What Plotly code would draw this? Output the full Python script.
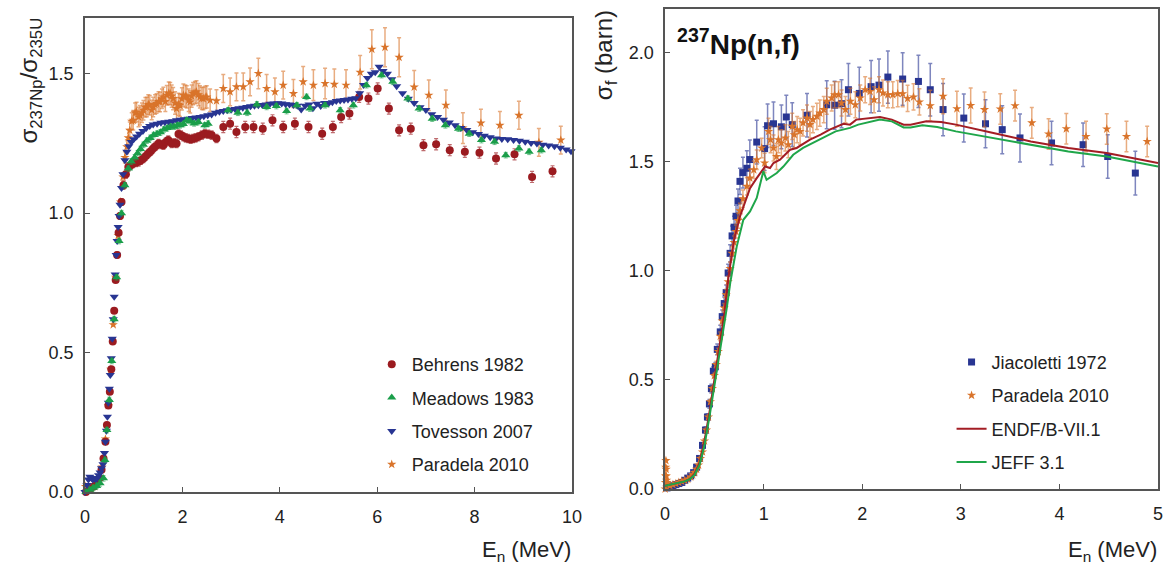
import plotly.graph_objects as go

# ---- left panel: sigma(237Np)/sigma(235U) ----
behrens_x = [0.02, 0.10, 0.18, 0.25, 0.30, 0.34, 0.38, 0.42, 0.45, 0.48,
             0.51, 0.54, 0.57, 0.60, 0.63, 0.66, 0.69, 0.72, 0.75, 0.79,
             0.84, 0.89, 0.94, 0.99, 1.05, 1.10, 1.15, 1.20, 1.25, 1.30,
             1.35, 1.40, 1.45, 1.51, 1.56, 1.61, 1.66, 1.71, 1.78, 1.83,
             1.88, 1.92, 1.97, 2.02, 2.07, 2.12, 2.17, 2.22, 2.27, 2.33,
             2.40, 2.46, 2.53, 2.60, 2.70, 2.84, 2.98, 3.11, 3.29, 3.46,
             3.65, 3.85, 4.07, 4.31, 4.59, 4.87, 5.09, 5.26, 5.43, 5.63,
             5.82, 6.01, 6.24, 6.45, 6.69, 6.95, 7.21, 7.49, 7.80, 8.10,
             8.44, 8.82, 9.18, 9.60]
behrens_y = [0.0, 0.01, 0.02, 0.035, 0.05, 0.08, 0.12, 0.18, 0.24, 0.31,
             0.36, 0.44, 0.54, 0.65, 0.76, 0.85, 0.93, 0.99, 1.04, 1.10,
             1.14, 1.166, 1.172, 1.178, 1.182, 1.184, 1.19, 1.196, 1.205, 1.214,
             1.222, 1.232, 1.24, 1.25, 1.246, 1.244, 1.255, 1.262, 1.25, 1.252,
             1.25, 1.284, 1.28, 1.274, 1.27, 1.268, 1.265, 1.268, 1.27, 1.274,
             1.28, 1.285, 1.283, 1.28, 1.268, 1.309, 1.321, 1.291, 1.309, 1.309,
             1.303, 1.333, 1.309, 1.321, 1.309, 1.285, 1.309, 1.345, 1.357, 1.417,
             1.411, 1.447, 1.375, 1.297, 1.303, 1.244, 1.247, 1.226, 1.220, 1.217,
             1.196, 1.211, 1.130, 1.150]
behrens_err = [0.005, 0.005, 0.005, 0.005, 0.005, 0.005, 0.005, 0.005, 0.005, 0.005,
               0.005, 0.005, 0.005, 0.008, 0.008, 0.01, 0.01, 0.012, 0.012, 0.015,
               0.015, 0.015, 0.015, 0.015, 0.015, 0.015, 0.015, 0.015, 0.015, 0.015,
               0.015, 0.015, 0.015, 0.015, 0.015, 0.015, 0.015, 0.015, 0.015, 0.015,
               0.015, 0.015, 0.015, 0.015, 0.015, 0.015, 0.015, 0.015, 0.015, 0.015,
               0.015, 0.015, 0.015, 0.015, 0.015, 0.02, 0.02, 0.02, 0.02, 0.02,
               0.02, 0.02, 0.02, 0.02, 0.02, 0.02, 0.02, 0.02, 0.02, 0.02,
               0.02, 0.02, 0.02, 0.02, 0.02, 0.02, 0.02, 0.02, 0.02, 0.02,
               0.02, 0.02, 0.02, 0.02]

meadows_x = [0.02, 0.10, 0.17, 0.24, 0.31, 0.38, 0.41, 0.45, 0.50, 0.55,
             0.60, 0.65, 0.70, 0.75, 0.82, 0.89, 0.95, 1.02, 1.08, 1.14,
             1.20, 1.27, 1.34, 1.41, 1.48, 1.55, 1.62, 1.69, 1.76, 1.83,
             1.90, 1.95, 2.02, 2.09, 2.16, 2.24, 2.33, 2.46, 2.53, 2.94,
             3.14, 3.33, 3.53, 3.73, 3.93, 4.14, 4.35, 4.55, 4.62, 4.93,
             5.24, 5.51, 5.78, 6.09, 6.32, 6.63, 6.86, 7.13, 7.40, 7.67,
             7.89, 8.14, 8.41, 8.64, 8.91, 9.12, 9.37]
meadows_y = [0.0, 0.008, 0.015, 0.022, 0.031, 0.049, 0.115, 0.222, 0.33, 0.47,
             0.62, 0.77, 0.90, 1.00, 1.10, 1.16, 1.185, 1.20, 1.215, 1.23,
             1.245, 1.26, 1.27, 1.28, 1.285, 1.29, 1.30, 1.305, 1.31, 1.31,
             1.315, 1.315, 1.32, 1.333, 1.33, 1.322, 1.327, 1.315, 1.321, 1.369,
             1.36, 1.36, 1.39, 1.381, 1.384, 1.366, 1.387, 1.417, 1.375, 1.387,
             1.369, 1.387, 1.459, 1.495, 1.471, 1.411, 1.375, 1.339, 1.315, 1.303,
             1.285, 1.262, 1.256, 1.208, 1.232, 1.22, 1.226]

tovesson_x = [0.00, 0.04, 0.07, 0.10, 0.13, 0.16, 0.19, 0.22, 0.25, 0.28,
              0.31, 0.34, 0.37, 0.40, 0.42, 0.44, 0.46, 0.48, 0.50, 0.52,
              0.54, 0.56, 0.58, 0.60, 0.62, 0.64, 0.66, 0.68, 0.70, 0.72,
              0.75, 0.78, 0.82, 0.86, 0.90, 0.95, 1.00, 1.06, 1.12, 1.19,
              1.26, 1.33, 1.40, 1.48, 1.56, 1.64, 1.72, 1.80, 1.88, 1.96,
              2.04, 2.12, 2.20, 2.28, 2.36, 2.44, 2.52, 2.60, 2.68, 2.76,
              2.84, 2.92, 3.00, 3.08, 3.16, 3.24, 3.32, 3.40, 3.48, 3.56,
              3.64, 3.72, 3.80, 3.88, 3.96, 4.04, 4.12, 4.20, 4.28, 4.36,
              4.44, 4.52, 4.60, 4.68, 4.76, 4.84, 4.92, 5.00, 5.08, 5.16,
              5.24, 5.32, 5.40, 5.48, 5.56, 5.64, 5.72, 5.80, 5.88, 5.96,
              6.04, 6.12, 6.21, 6.30, 6.40, 6.52, 6.64, 6.76, 6.88, 7.00,
              7.12, 7.24, 7.36, 7.48, 7.60, 7.72, 7.84, 7.96, 8.08, 8.20,
              8.32, 8.44, 8.56, 8.68, 8.80, 8.92, 9.04, 9.16, 9.28, 9.40,
              9.52, 9.64, 9.76, 9.88, 9.98]
tovesson_y = [0.00, 0.025, 0.045, 0.055, 0.05, 0.045, 0.05, 0.045, 0.05, 0.06,
              0.07, 0.085, 0.10, 0.14, 0.18, 0.22, 0.27, 0.32, 0.37, 0.42,
              0.48, 0.55, 0.62, 0.70, 0.78, 0.85, 0.90, 0.95, 0.99, 1.03,
              1.09, 1.14, 1.19, 1.22, 1.24, 1.255, 1.265, 1.275, 1.285, 1.295,
              1.305, 1.313, 1.318, 1.321, 1.324, 1.326, 1.328, 1.33, 1.333, 1.335,
              1.337, 1.339, 1.341, 1.343, 1.345, 1.348, 1.351, 1.354, 1.36, 1.364,
              1.366, 1.369, 1.371, 1.374, 1.376, 1.378, 1.381, 1.383, 1.385, 1.387,
              1.388, 1.39, 1.392, 1.393, 1.394, 1.393, 1.391, 1.39, 1.388, 1.385,
              1.372, 1.385, 1.39, 1.376, 1.392, 1.384, 1.395, 1.393, 1.398, 1.402,
              1.404, 1.406, 1.408, 1.41, 1.412, 1.43, 1.46, 1.485, 1.50, 1.505,
              1.525, 1.51, 1.50, 1.48, 1.455, 1.43, 1.41, 1.395, 1.38, 1.37,
              1.355, 1.345, 1.335, 1.325, 1.315, 1.305, 1.298, 1.29, 1.284, 1.278,
              1.272, 1.268, 1.266, 1.265, 1.262, 1.26, 1.256, 1.252, 1.25, 1.245,
              1.243, 1.24, 1.235, 1.228, 1.222]

paradela_l_x = [0.01, 0.05, 0.12, 0.20, 0.28, 0.35, 0.42, 0.48, 0.53, 0.58,
                0.63, 0.68, 0.73, 0.78, 0.82, 0.86, 0.89, 0.92, 0.96, 0.99,
                1.03, 1.06, 1.10, 1.13, 1.17, 1.20, 1.24, 1.27, 1.30, 1.33,
                1.37, 1.40, 1.44, 1.47, 1.51, 1.54, 1.58, 1.61, 1.65, 1.68,
                1.72, 1.75, 1.78, 1.81, 1.85, 1.88, 1.92, 1.95, 1.99, 2.02,
                2.06, 2.09, 2.13, 2.16, 2.19, 2.22, 2.26, 2.29, 2.33, 2.36,
                2.40, 2.43, 2.47, 2.50, 2.57, 2.70, 2.84, 2.98, 3.11, 3.25,
                3.39, 3.56, 3.73, 3.90, 4.07, 4.28, 4.48, 4.69, 4.93, 5.12,
                5.36, 5.65, 5.89, 6.16, 6.45, 6.76, 7.06, 7.41, 7.76, 8.13,
                8.52, 8.91, 9.32, 9.77]
paradela_l_y = [0.02, 0.01, 0.015, 0.02, 0.04, 0.09, 0.19, 0.31, 0.44, 0.60,
                0.77, 0.92, 1.04, 1.13, 1.20, 1.238, 1.27, 1.297, 1.33, 1.333,
                1.36, 1.363, 1.345, 1.351, 1.36, 1.369, 1.38, 1.381, 1.39, 1.387,
                1.37, 1.381, 1.39, 1.393, 1.40, 1.399, 1.41, 1.417, 1.40, 1.423,
                1.43, 1.429, 1.42, 1.411, 1.395, 1.375, 1.39, 1.387, 1.41, 1.423,
                1.42, 1.417, 1.405, 1.399, 1.42, 1.429, 1.432, 1.435, 1.425, 1.417,
                1.412, 1.411, 1.415, 1.417, 1.405, 1.403, 1.447, 1.435, 1.453, 1.453,
                1.471, 1.501, 1.447, 1.435, 1.459, 1.429, 1.471, 1.459, 1.465, 1.462,
                1.459, 1.505, 1.588, 1.595, 1.559, 1.452, 1.423, 1.387, 1.305, 1.323,
                1.315, 1.351, 1.254, 1.262]
paradela_l_err = [0.005, 0.005, 0.005, 0.005, 0.005, 0.005, 0.005, 0.005, 0.005, 0.005,
                  0.005, 0.01, 0.01, 0.015, 0.02, 0.025, 0.03, 0.03, 0.03, 0.035,
                  0.035, 0.035, 0.035, 0.035, 0.035, 0.035, 0.035, 0.035, 0.035, 0.035,
                  0.035, 0.035, 0.035, 0.035, 0.035, 0.035, 0.035, 0.035, 0.035, 0.035,
                  0.04, 0.04, 0.04, 0.04, 0.04, 0.04, 0.04, 0.04, 0.04, 0.04,
                  0.04, 0.04, 0.04, 0.04, 0.04, 0.04, 0.04, 0.04, 0.04, 0.04,
                  0.04, 0.04, 0.04, 0.04, 0.04, 0.04, 0.05, 0.05, 0.05, 0.05,
                  0.05, 0.055, 0.05, 0.05, 0.05, 0.05, 0.055, 0.055, 0.055, 0.055,
                  0.055, 0.06, 0.07, 0.07, 0.07, 0.06, 0.055, 0.055, 0.055, 0.05,
                  0.05, 0.05, 0.05, 0.05]

# ---- right panel: 237Np(n,f) cross section ----
jiacoletti_x = [0.02, 0.05, 0.08, 0.11, 0.14, 0.17, 0.20, 0.23, 0.26, 0.29,
                0.32, 0.35, 0.38, 0.41, 0.43, 0.45, 0.47, 0.49, 0.51, 0.53,
                0.56, 0.58, 0.60, 0.62, 0.64, 0.66, 0.68, 0.70, 0.72, 0.74,
                0.76, 0.79, 0.83, 0.86, 0.93, 1.01, 1.04, 1.10, 1.18, 1.23,
                1.29, 1.44, 1.64, 1.72, 1.79, 1.86, 1.97, 2.09, 2.17, 2.26,
                2.41, 2.57, 2.69, 2.82, 3.03, 3.25, 3.42, 3.60, 3.92, 4.24,
                4.49, 4.77]
jiacoletti_y = [0.005, 0.01, 0.015, 0.02, 0.025, 0.03, 0.04, 0.05, 0.06, 0.075,
                0.10, 0.14, 0.20, 0.27, 0.33, 0.39, 0.46, 0.54, 0.56, 0.64,
                0.72, 0.79, 0.85, 0.90, 0.99, 1.08, 1.16, 1.20, 1.25, 1.32,
                1.41, 1.45, 1.47, 1.51, 1.59, 1.56, 1.665, 1.674, 1.66, 1.705,
                1.67, 1.713, 1.761, 1.759, 1.766, 1.83, 1.813, 1.844, 1.851, 1.888,
                1.879, 1.868, 1.83, 1.739, 1.70, 1.674, 1.647, 1.609, 1.586, 1.578,
                1.524, 1.448]
jiacoletti_err = [0.005, 0.005, 0.005, 0.005, 0.005, 0.005, 0.005, 0.005, 0.005, 0.005,
                  0.01, 0.01, 0.01, 0.015, 0.015, 0.02, 0.02, 0.02, 0.02, 0.025,
                  0.03, 0.03, 0.03, 0.035, 0.04, 0.04, 0.045, 0.05, 0.05, 0.055,
                  0.06, 0.07, 0.08, 0.09, 0.10, 0.10, 0.10, 0.10, 0.10, 0.10,
                  0.10, 0.10, 0.11, 0.11, 0.11, 0.12, 0.12, 0.12, 0.12, 0.12,
                  0.12, 0.12, 0.12, 0.12, 0.11, 0.11, 0.11, 0.11, 0.10, 0.10,
                  0.10, 0.10]

paradela_r_x = [0.001, 0.003, 0.005, 0.007, 0.009, 0.011, 0.013, 0.016, 0.02, 0.03,
                0.05, 0.08, 0.11, 0.14, 0.17, 0.20, 0.23, 0.26, 0.28, 0.30,
                0.32, 0.34, 0.36, 0.38, 0.40, 0.42, 0.44, 0.46, 0.48, 0.50,
                0.52, 0.54, 0.56, 0.58, 0.60, 0.62, 0.64, 0.66, 0.68, 0.70,
                0.72, 0.74, 0.76, 0.79, 0.83, 0.86, 0.90, 0.93, 0.98, 1.01,
                1.05, 1.07, 1.10, 1.13, 1.15, 1.18, 1.22, 1.25, 1.29, 1.31,
                1.34, 1.37, 1.40, 1.44, 1.47, 1.50, 1.54, 1.57, 1.61, 1.64,
                1.69, 1.72, 1.76, 1.79, 1.83, 1.88, 1.93, 1.98, 2.03, 2.08,
                2.12, 2.17, 2.21, 2.26, 2.31, 2.36, 2.41, 2.46, 2.52, 2.58,
                2.69, 2.82, 2.96, 3.10, 3.24, 3.40, 3.55, 3.72, 3.89, 4.07,
                4.27, 4.48, 4.68, 4.89]
paradela_r_y = [0.0, 0.03, 0.06, 0.10, 0.13, 0.09, 0.06, 0.04, 0.03, 0.02,
                0.015, 0.02, 0.025, 0.03, 0.035, 0.04, 0.045, 0.055, 0.065, 0.075,
                0.09, 0.11, 0.14, 0.17, 0.22, 0.27, 0.33, 0.40, 0.46, 0.52,
                0.57, 0.63, 0.70, 0.77, 0.83, 0.89, 0.95, 1.01, 1.08, 1.13,
                1.18, 1.23, 1.275, 1.33, 1.387, 1.425, 1.463, 1.509, 1.563, 1.494,
                1.639, 1.601, 1.563, 1.524, 1.601, 1.586, 1.609, 1.578, 1.662, 1.624,
                1.647, 1.639, 1.678, 1.70, 1.67, 1.693, 1.708, 1.723, 1.739, 1.777,
                1.792, 1.807, 1.807, 1.769, 1.739, 1.777, 1.761, 1.792, 1.83, 1.822,
                1.784, 1.83, 1.815, 1.807, 1.807, 1.812, 1.812, 1.79, 1.797, 1.774,
                1.757, 1.80, 1.743, 1.758, 1.739, 1.742, 1.757, 1.678, 1.627, 1.651,
                1.616, 1.65, 1.616, 1.593]
paradela_r_err = [0.005, 0.005, 0.005, 0.005, 0.005, 0.005, 0.005, 0.005, 0.005, 0.005,
                  0.005, 0.005, 0.005, 0.005, 0.005, 0.005, 0.005, 0.005, 0.005, 0.005,
                  0.01, 0.01, 0.01, 0.01, 0.01, 0.01, 0.01, 0.01, 0.01, 0.01,
                  0.015, 0.015, 0.02, 0.02, 0.02, 0.025, 0.025, 0.03, 0.03, 0.03,
                  0.03, 0.035, 0.035, 0.04, 0.04, 0.04, 0.04, 0.045, 0.045, 0.045,
                  0.06, 0.06, 0.06, 0.06, 0.06, 0.06, 0.06, 0.06, 0.06, 0.06,
                  0.06, 0.06, 0.06, 0.06, 0.06, 0.06, 0.06, 0.06, 0.06, 0.06,
                  0.06, 0.06, 0.06, 0.06, 0.06, 0.06, 0.06, 0.06, 0.06, 0.06,
                  0.06, 0.06, 0.06, 0.06, 0.06, 0.06, 0.06, 0.06, 0.06, 0.06,
                  0.07, 0.08, 0.08, 0.08, 0.08, 0.07, 0.07, 0.07, 0.07, 0.07,
                  0.07, 0.07, 0.07, 0.07]

endf_x = [0.0, 0.05, 0.1, 0.15, 0.2, 0.25, 0.3, 0.35, 0.4, 0.45,
          0.5, 0.55, 0.6, 0.644, 0.70, 0.76, 0.862, 0.93, 1.014, 1.065,
          1.10, 1.166, 1.268, 1.335, 1.47, 1.578, 1.67, 1.81, 1.876, 1.94,
          2.18, 2.30, 2.42, 2.49, 2.65, 2.80, 2.95, 3.33, 3.71, 4.09,
          4.48, 5.0]
endf_y = [0.015, 0.02, 0.025, 0.03, 0.035, 0.045, 0.07, 0.12, 0.22, 0.35,
          0.5, 0.64, 0.8, 0.974, 1.142, 1.249, 1.379, 1.425, 1.478, 1.471,
          1.494, 1.509, 1.555, 1.563, 1.601, 1.624, 1.647, 1.674, 1.670, 1.693,
          1.705, 1.693, 1.670, 1.670, 1.685, 1.682, 1.670, 1.632, 1.593, 1.563,
          1.54, 1.494]

jeff_x = [0.0, 0.05, 0.1, 0.15, 0.2, 0.25, 0.3, 0.35, 0.4, 0.45,
          0.5, 0.558, 0.626, 0.663, 0.727, 0.794, 0.862, 0.93, 0.997, 1.03,
          1.133, 1.20, 1.30, 1.40, 1.50, 1.605, 1.73, 1.876, 1.96, 2.18,
          2.30, 2.42, 2.49, 2.61, 2.76, 2.95, 3.33, 3.71, 4.09, 4.48,
          5.0]
jeff_y = [0.015, 0.02, 0.025, 0.03, 0.035, 0.045, 0.065, 0.11, 0.2, 0.33,
          0.47, 0.638, 0.829, 0.95, 1.111, 1.234, 1.272, 1.334, 1.456, 1.417,
          1.448, 1.478, 1.532, 1.563, 1.586, 1.609, 1.639, 1.655, 1.67, 1.693,
          1.685, 1.657, 1.657, 1.667, 1.659, 1.639, 1.609, 1.578, 1.547, 1.524,
          1.478]

RED = "#9b1b20"
GREEN = "#1a9e4a"
NAVY = "#283592"
ORANGE = "#d9742b"
TXT = "#222222"
FONT = "Liberation Sans, Arial, sans-serif"


def errs(values, color, thick=1.2):
    return dict(type="data", array=values, visible=True, color=color, thickness=thick, width=2)


fig = go.Figure()

# left panel (draw order: stars below, circles, blue, green on top)
fig.add_trace(go.Scatter(x=paradela_l_x, y=paradela_l_y, mode="markers", name="Paradela 2010",
                         marker=dict(symbol="star", size=7, color=ORANGE),
                         error_y=errs(paradela_l_err, "rgba(217,116,43,0.6)", 1.5),
                         legendrank=4, legendgroup="l4", cliponaxis=False, xaxis="x", yaxis="y"))
fig.add_trace(go.Scatter(x=behrens_x, y=behrens_y, mode="markers", name="Behrens 1982",
                         marker=dict(symbol="circle", size=8, color=RED),
                         error_y=errs(behrens_err, "rgba(155,27,32,0.65)"),
                         legendrank=1, legendgroup="l1", cliponaxis=False, xaxis="x", yaxis="y"))
fig.add_trace(go.Scatter(x=tovesson_x, y=tovesson_y, mode="markers", name="Tovesson 2007",
                         marker=dict(symbol="triangle-down", size=8, color=NAVY),
                         legendrank=3, legendgroup="l3", cliponaxis=False, xaxis="x", yaxis="y"))
fig.add_trace(go.Scatter(x=meadows_x, y=meadows_y, mode="markers", name="Meadows 1983",
                         marker=dict(symbol="triangle-up", size=8, color=GREEN),
                         error_y=errs([0.01] * len(meadows_y), "rgba(26,158,74,0.6)", 1),
                         legendrank=2, legendgroup="l2", cliponaxis=False, xaxis="x", yaxis="y"))

# right panel
fig.add_trace(go.Scatter(x=jiacoletti_x, y=jiacoletti_y, mode="markers", name="Jiacoletti 1972",
                         marker=dict(symbol="square", size=7, color=NAVY),
                         error_y=errs(jiacoletti_err, "rgba(40,53,146,0.6)", 1.5),
                         legend="legend2", legendrank=1, legendgroup="r1", cliponaxis=False,
                         xaxis="x2", yaxis="y2"))
fig.add_trace(go.Scatter(x=paradela_r_x, y=paradela_r_y, mode="markers", name="Paradela 2010",
                         marker=dict(symbol="star", size=7, color=ORANGE),
                         error_y=errs(paradela_r_err, "rgba(217,116,43,0.6)", 1.5),
                         legend="legend2", legendrank=2, legendgroup="r2", cliponaxis=False,
                         xaxis="x2", yaxis="y2"))
fig.add_trace(go.Scatter(x=endf_x, y=endf_y, mode="lines", name="ENDF/B-VII.1",
                         line=dict(color="#a31d24", width=2),
                         legend="legend2", legendrank=3, legendgroup="r3", xaxis="x2", yaxis="y2"))
fig.add_trace(go.Scatter(x=jeff_x, y=jeff_y, mode="lines", name="JEFF 3.1",
                         line=dict(color="#1fa64a", width=2),
                         legend="legend2", legendrank=4, legendgroup="r4", xaxis="x2", yaxis="y2"))

axis_style = dict(showline=True, mirror=True, linecolor="#555555", linewidth=1.5,
                  ticks="inside", ticklen=5, tickcolor="#555555", tickwidth=1.2,
                  showgrid=False, zeroline=False, automargin=False,
                  tickfont=dict(family=FONT, size=18, color=TXT))

fig.update_layout(
    width=1169, height=569,
    margin=dict(l=0, r=0, t=0, b=0, autoexpand=False),
    paper_bgcolor="white", plot_bgcolor="white",
    font=dict(family=FONT, size=18, color=TXT),
    xaxis=dict(domain=[0.0727, 0.4893], range=[0, 10], tickvals=[0, 2, 4, 6, 8, 10],
               anchor="y", ticklabelstandoff=8, **axis_style),
    yaxis=dict(domain=[0.1353, 0.9684], range=[0, 1.70], tickvals=[0, 0.5, 1.0, 1.5],
               tickformat=".1f", anchor="x", ticklabelstandoff=6, **axis_style),
    xaxis2=dict(domain=[0.5689, 0.9906], range=[0, 5], tickvals=[0, 1, 2, 3, 4, 5],
                anchor="y2", ticklabelstandoff=8, **axis_style),
    yaxis2=dict(domain=[0.1406, 0.9842], range=[0, 2.2], tickvals=[0, 0.5, 1.0, 1.5, 2.0],
                tickformat=".1f", anchor="x2", ticklabelstandoff=6, **axis_style),
    legend=dict(x=0.318, y=0.392, xanchor="left", yanchor="top", bgcolor="rgba(0,0,0,0)",
                tracegroupgap=7, font=dict(family=FONT, size=18, color=TXT)),
    legend2=dict(x=0.814, y=0.396, xanchor="left", yanchor="top", bgcolor="rgba(0,0,0,0)",
                 tracegroupgap=7, font=dict(family=FONT, size=18, color=TXT)),
)

fig.add_annotation(text="σ<sub>237Np</sub>/σ<sub>235U</sub>", xref="paper", yref="paper",
                   x=0.026, y=0.859, textangle=-90, showarrow=False,
                   xanchor="center", yanchor="middle", font=dict(size=24))
fig.add_annotation(text="σ<sub>f</sub> (barn)", xref="paper", yref="paper",
                   x=0.5175, y=0.903, textangle=-90, showarrow=False,
                   xanchor="center", yanchor="middle", font=dict(size=24))
fig.add_annotation(text="E<sub>n</sub> (MeV)", xref="paper", yref="paper",
                   x=0.490, y=0.032, showarrow=False, xanchor="right", yanchor="middle",
                   font=dict(size=22))
fig.add_annotation(text="E<sub>n</sub> (MeV)", xref="paper", yref="paper",
                   x=0.9914, y=0.032, showarrow=False, xanchor="right", yanchor="middle",
                   font=dict(size=22))
fig.add_annotation(text="<b><sup>237</sup>Np(n,f)</b>", xref="paper", yref="paper",
                   x=0.5774, y=0.926, showarrow=False, xanchor="left", yanchor="middle",
                   font=dict(size=28, color="#111111"))

# the page body has a default 8px margin; drop it so the figure fills the window
fig.write_html("out.html", config={"displayModeBar": False},
               post_script="document.body.style.margin='0';")
